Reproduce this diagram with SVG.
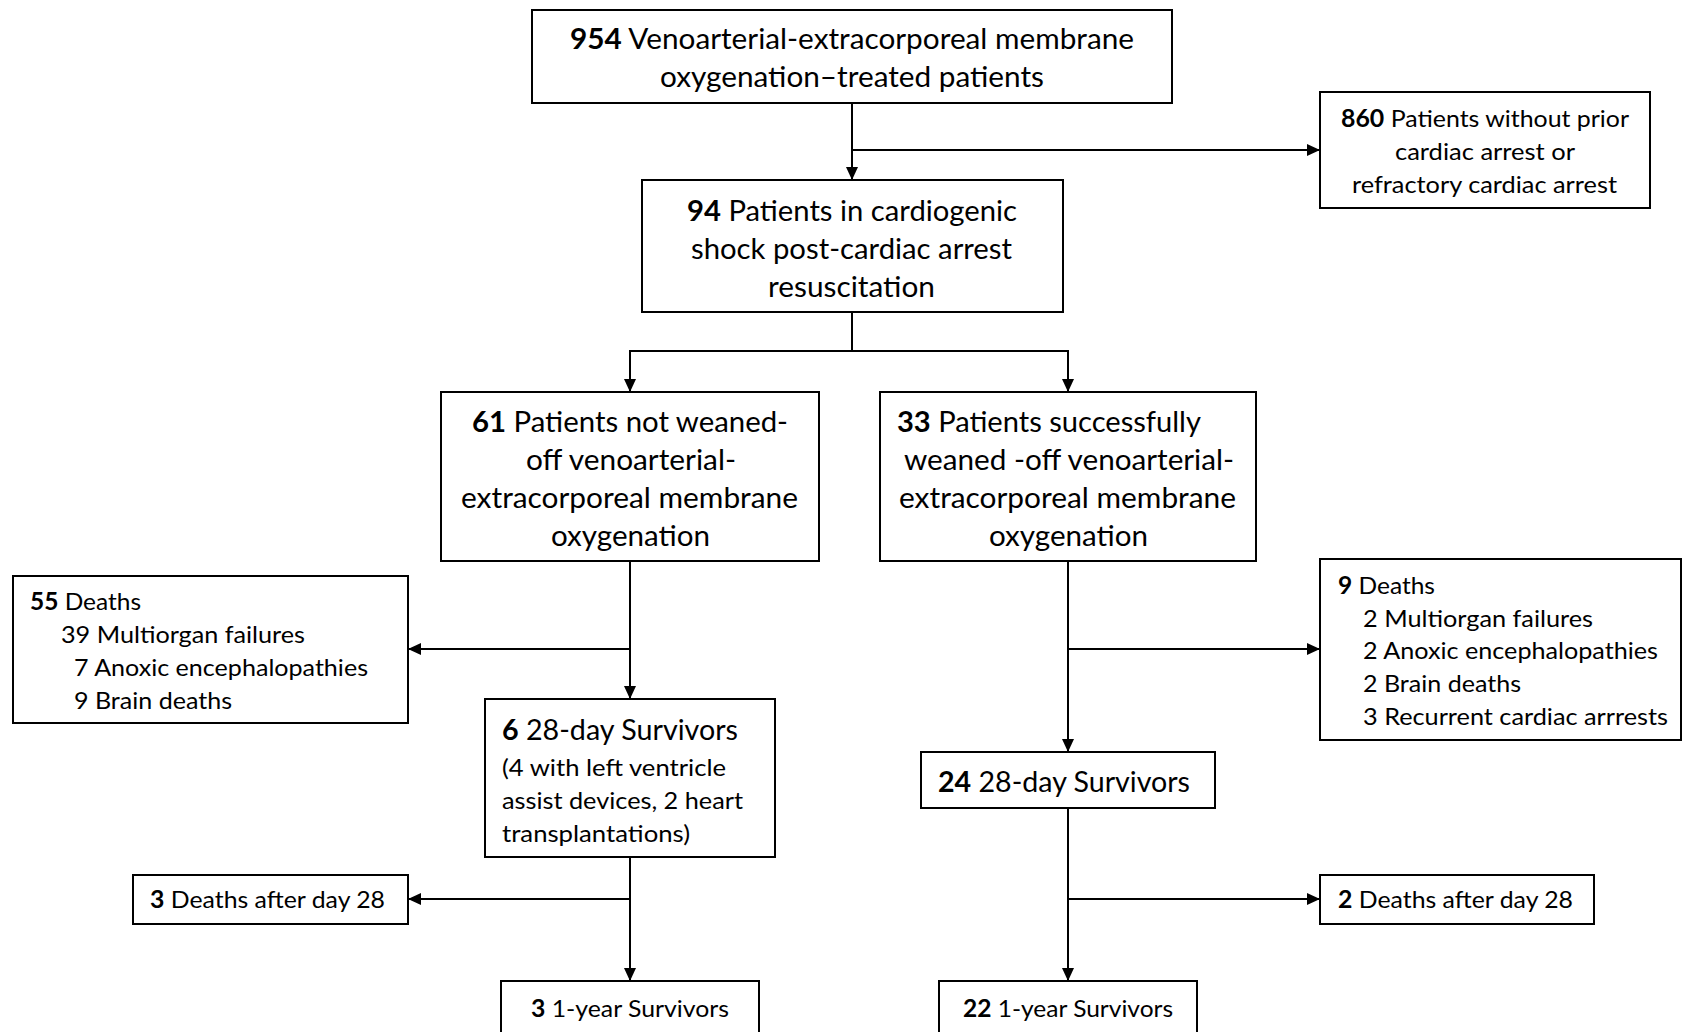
<svg xmlns="http://www.w3.org/2000/svg" width="1683" height="1032" viewBox="0 0 1683 1032">
<style>
.box{fill:#fff;stroke:#000;stroke-width:2}
.t{font-family:Lato,"Open Sans","Liberation Sans",sans-serif;fill:#000}
.L{font-size:29px}
.S{font-size:24px}
.b{font-weight:bold}
.con{fill:none;stroke:#000;stroke-width:2}
</style>
<defs>
<marker id="ah" markerUnits="userSpaceOnUse" markerWidth="13" markerHeight="12" refX="13" refY="6" orient="auto">
<path d="M0,0 L13,6 L0,12 z" fill="#000"/>
</marker>
</defs>
<rect width="1683" height="1032" fill="#fff"/>
<g id="connectors">
<path class="con" d="M852,103 V180" marker-end="url(#ah)"/>
<path class="con" d="M852,150 H1320" marker-end="url(#ah)"/>
<path class="con" d="M852,312 V351 H630 V392" marker-end="url(#ah)"/>
<path class="con" d="M852,351 H1068 V392" marker-end="url(#ah)"/>
<path class="con" d="M630,561 V699" marker-end="url(#ah)"/>
<path class="con" d="M630,649 H408" marker-end="url(#ah)"/>
<path class="con" d="M1068,561 V752" marker-end="url(#ah)"/>
<path class="con" d="M1068,649 H1320" marker-end="url(#ah)"/>
<path class="con" d="M630,857 V981" marker-end="url(#ah)"/>
<path class="con" d="M630,899 H408" marker-end="url(#ah)"/>
<path class="con" d="M1068,808 V981" marker-end="url(#ah)"/>
<path class="con" d="M1068,899 H1320" marker-end="url(#ah)"/>
</g>
<g id="n954">
<rect class="box" x="532" y="10" width="640" height="93"/>
<text class="t L" x="570" y="49" textLength="564" lengthAdjust="spacingAndGlyphs"><tspan class="b">954</tspan> Venoarterial-extracorporeal membrane</text>
<text class="t L" x="660" y="87" textLength="384" lengthAdjust="spacingAndGlyphs">oxygenation–treated patients</text>
</g>
<g id="n860">
<rect class="box" x="1320" y="92" width="330" height="116"/>
<text class="t S" x="1341" y="127" textLength="288" lengthAdjust="spacingAndGlyphs"><tspan class="b">860</tspan> Patients without prior</text>
<text class="t S" x="1395" y="160" textLength="180" lengthAdjust="spacingAndGlyphs">cardiac arrest or</text>
<text class="t S" x="1352" y="193" textLength="265" lengthAdjust="spacingAndGlyphs">refractory cardiac arrest</text>
</g>
<g id="n94">
<rect class="box" x="642" y="180" width="421" height="132"/>
<text class="t L" x="687" y="221" textLength="330" lengthAdjust="spacingAndGlyphs"><tspan class="b">94</tspan> Patients in cardiogenic</text>
<text class="t L" x="691" y="259" textLength="321" lengthAdjust="spacingAndGlyphs">shock post-cardiac arrest</text>
<text class="t L" x="768" y="297" textLength="167" lengthAdjust="spacingAndGlyphs">resuscitation</text>
</g>
<g id="n61">
<rect class="box" x="441" y="392" width="378" height="169"/>
<text class="t L" x="472" y="432" textLength="316" lengthAdjust="spacingAndGlyphs"><tspan class="b">61</tspan> Patients not weaned-</text>
<text class="t L" x="526" y="470" textLength="210" lengthAdjust="spacingAndGlyphs">off venoarterial-</text>
<text class="t L" x="461" y="508" textLength="337" lengthAdjust="spacingAndGlyphs">extracorporeal membrane</text>
<text class="t L" x="551" y="546" textLength="159" lengthAdjust="spacingAndGlyphs">oxygenation</text>
</g>
<g id="n33">
<rect class="box" x="880" y="392" width="376" height="169"/>
<text class="t L" x="897" y="432" textLength="304" lengthAdjust="spacingAndGlyphs"><tspan class="b">33</tspan> Patients successfully</text>
<text class="t L" x="904" y="470" textLength="330" lengthAdjust="spacingAndGlyphs">weaned -off venoarterial-</text>
<text class="t L" x="899" y="508" textLength="337" lengthAdjust="spacingAndGlyphs">extracorporeal membrane</text>
<text class="t L" x="989" y="546" textLength="159" lengthAdjust="spacingAndGlyphs">oxygenation</text>
</g>
<g id="n55">
<rect class="box" x="13" y="576" width="395" height="147"/>
<text class="t S" x="30" y="610" textLength="111" lengthAdjust="spacingAndGlyphs"><tspan class="b">55</tspan> Deaths</text>
<text class="t S" x="61" y="643" textLength="244" lengthAdjust="spacingAndGlyphs">39 Multiorgan failures</text>
<text class="t S" x="74" y="676" textLength="294" lengthAdjust="spacingAndGlyphs">7 Anoxic encephalopathies</text>
<text class="t S" x="74" y="709" textLength="158" lengthAdjust="spacingAndGlyphs">9 Brain deaths</text>
</g>
<g id="n9">
<rect class="box" x="1320" y="559" width="361" height="181"/>
<text class="t S" x="1338" y="594" textLength="97" lengthAdjust="spacingAndGlyphs"><tspan class="b">9</tspan> Deaths</text>
<text class="t S" x="1363" y="627" textLength="230" lengthAdjust="spacingAndGlyphs">2 Multiorgan failures</text>
<text class="t S" x="1363" y="659" textLength="295" lengthAdjust="spacingAndGlyphs">2 Anoxic encephalopathies</text>
<text class="t S" x="1363" y="692" textLength="158" lengthAdjust="spacingAndGlyphs">2 Brain deaths</text>
<text class="t S" x="1363" y="725" textLength="305" lengthAdjust="spacingAndGlyphs">3 Recurrent cardiac arrrests</text>
</g>
<g id="n6">
<rect class="box" x="485" y="699" width="290" height="158"/>
<text class="t L" x="502" y="740" textLength="236" lengthAdjust="spacingAndGlyphs"><tspan class="b">6</tspan> 28-day Survivors</text>
<text class="t S" x="502" y="776" textLength="224" lengthAdjust="spacingAndGlyphs">(4 with left ventricle</text>
<text class="t S" x="502" y="809" textLength="241" lengthAdjust="spacingAndGlyphs">assist devices, 2 heart</text>
<text class="t S" x="502" y="842" textLength="188" lengthAdjust="spacingAndGlyphs">transplantations)</text>
</g>
<g id="n24">
<rect class="box" x="921" y="752" width="294" height="56"/>
<text class="t L" x="938" y="792" textLength="252" lengthAdjust="spacingAndGlyphs"><tspan class="b">24</tspan> 28-day Survivors</text>
</g>
<g id="n3d">
<rect class="box" x="133" y="875" width="275" height="49"/>
<text class="t S" x="150" y="908" textLength="235" lengthAdjust="spacingAndGlyphs"><tspan class="b">3</tspan> Deaths after day 28</text>
</g>
<g id="n2d">
<rect class="box" x="1320" y="875" width="274" height="49"/>
<text class="t S" x="1338" y="908" textLength="235" lengthAdjust="spacingAndGlyphs"><tspan class="b">2</tspan> Deaths after day 28</text>
</g>
<g id="n3y">
<rect class="box" x="501" y="981" width="258" height="60"/>
<text class="t S" x="531" y="1017" textLength="198" lengthAdjust="spacingAndGlyphs"><tspan class="b">3</tspan> 1-year Survivors</text>
</g>
<g id="n22y">
<rect class="box" x="939" y="981" width="258" height="60"/>
<text class="t S" x="963" y="1017" textLength="210" lengthAdjust="spacingAndGlyphs"><tspan class="b">22</tspan> 1-year Survivors</text>
</g>
</svg>
